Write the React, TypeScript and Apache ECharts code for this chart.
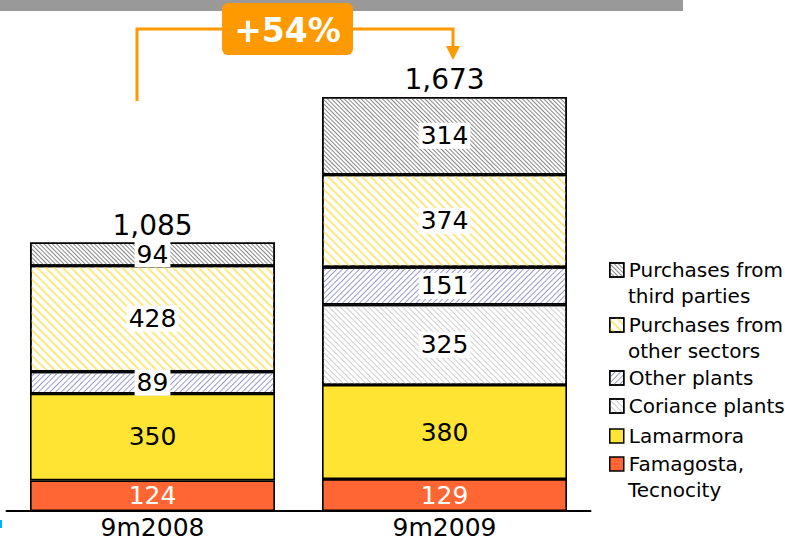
import React, { useEffect, useRef } from "react";
import * as echarts from "echarts";

const categories = ["9m2008", "9m2009"];
const famagosta = [124, 129];
const lamarmora = [350, 380];
const coriance: (number | null)[] = [null, 325];
const otherPlants = [89, 151];
const otherSectors = [428, 374];
const thirdParties = [94, 314];
const totals = [1085, 1673];
const growthLabel = "+54%";

const legendLines: string[][] = [
  ["Purchases from", "third parties"],
  ["Purchases from", "other sectors"],
  ["Other plants"],
  ["Coriance plants"],
  ["Lamarmora"],
  ["Famagosta,", "Tecnocity"],
];
const seriesNames = [
  "Purchases from third parties",
  "Purchases from other sectors",
  "Other plants",
  "Coriance plants",
  "Lamarmora",
  "Famagosta, Tecnocity",
];

const FONT = "DejaVu Sans";

export default function App() {
  const ref = useRef<HTMLDivElement>(null);
  useEffect(() => {
    if (!ref.current) return;
    const chart = echarts.init(ref.current, null, { renderer: "svg" });

    const patLabel = {
      show: true,
      position: "inside",
      fontSize: 25,
      lineHeight: 26,
      color: "#000",
      fontFamily: FONT,
      backgroundColor: "#fff",
      padding: [0, 2],
    };
    const border = { borderColor: "#000", borderWidth: 1.6 };
    const mkDecal = (color: string, dy: number[], rot: number) => ({
      symbol: "rect",
      symbolSize: 1,
      color,
      dashArrayX: [1, 0],
      dashArrayY: dy,
      rotation: rot,
    });

    const legendCenters = [270, 325, 378, 406, 436, 464];
    const legends = seriesNames.map((name, i) => ({
      data: [{ name, icon: "rect" }],
      orient: "vertical",
      left: 609,
      top: legendCenters[i] - 10,
      padding: 0,
      itemWidth: 14,
      itemHeight: 14,
      selectedMode: false,
      formatter: () => legendLines[i][0],
      textStyle: { fontSize: 20, lineHeight: 20, color: "#000", fontFamily: FONT },
      itemStyle: { borderColor: "#000", borderWidth: 1.5 },
    }));

    const secondLines: any[] = [];
    legendLines.forEach((lines, i) => {
      if (lines.length > 1) {
        secondLines.push({
          type: "text",
          x: 628,
          y: legendCenters[i] + 26,
          style: {
            text: lines[1],
            fontSize: 20,
            fontFamily: FONT,
            fill: "#000",
            textVerticalAlign: "middle",
          },
        });
      }
    });

    const orange = "#FF9900";
    chart.setOption({
      animation: false,
      legend: legends,
      grid: { left: 6.5, width: 584, bottom: 31, top: 65.5 },
      xAxis: {
        type: "category",
        data: categories,
        axisLine: { lineStyle: { color: "#000", width: 2 } },
        axisTick: { show: false },
        axisLabel: { fontSize: 25, lineHeight: 26, color: "#000", fontFamily: FONT, margin: 3 },
      },
      yAxis: { type: "value", min: 0, max: 1800, show: false, splitLine: { show: false } },
      series: [
        {
          name: seriesNames[5],
          type: "bar",
          stack: "a",
          barWidth: 245,
          data: famagosta,
          itemStyle: { color: "#FF6633", ...border },
          label: { show: true, position: "inside", fontSize: 25, color: "#fff", fontFamily: FONT },
        },
        {
          name: seriesNames[4],
          type: "bar",
          stack: "a",
          data: lamarmora,
          itemStyle: { color: "#FFE433", ...border },
          label: { show: true, position: "inside", fontSize: 25, color: "#000", fontFamily: FONT },
        },
        {
          name: seriesNames[3],
          type: "bar",
          stack: "a",
          data: coriance,
          itemStyle: { color: "#fff", ...border, decal: mkDecal("#cfcfcf", [1, 2.5], Math.PI / 4) },
          label: patLabel,
        },
        {
          name: seriesNames[2],
          type: "bar",
          stack: "a",
          data: otherPlants,
          itemStyle: { color: "#fff", ...border, decal: mkDecal("#9a9ad0", [1, 2.5], -Math.PI / 4) },
          label: patLabel,
        },
        {
          name: seriesNames[1],
          type: "bar",
          stack: "a",
          data: otherSectors,
          itemStyle: { color: "#fff", ...border, decal: mkDecal("#ffe880", [1.5, 3.5], Math.PI / 4) },
          label: patLabel,
        },
        {
          name: seriesNames[0],
          type: "bar",
          stack: "a",
          data: thirdParties,
          itemStyle: { color: "#fff", ...border, decal: mkDecal("#888888", [1, 2], Math.PI / 4) },
          label: patLabel,
        },
        {
          name: "total",
          type: "bar",
          stack: "a",
          data: totals.map(() => 0),
          itemStyle: { color: "rgba(0,0,0,0)", borderWidth: 0 },
          label: {
            show: true,
            position: "top",
            distance: 3,
            fontSize: 28,
            color: "#000",
            fontFamily: FONT,
            formatter: (p: any) => totals[p.dataIndex].toLocaleString("en-US"),
          },
        },
      ],
      graphic: [
        { type: "rect", shape: { x: 0, y: 0, width: 683, height: 11 }, style: { fill: "#999999" } },
        { type: "rect", shape: { x: 0, y: 520, width: 2, height: 8 }, style: { fill: "#00B0F0" } },
        {
          type: "polyline",
          shape: { points: [[137, 101], [137, 29], [225, 29]] },
          style: { stroke: orange, lineWidth: 3, fill: null },
        },
        {
          type: "polyline",
          shape: { points: [[350, 29], [453, 29], [453, 48]] },
          style: { stroke: orange, lineWidth: 3, fill: null },
        },
        {
          type: "polygon",
          shape: { points: [[446, 46], [460, 46], [453, 60]] },
          style: { fill: orange },
        },
        {
          type: "rect",
          shape: { x: 222, y: 3, width: 131, height: 52, r: 6 },
          style: { fill: orange },
        },
        {
          type: "text",
          x: 287.5,
          y: 30,
          style: {
            text: growthLabel,
            fontSize: 33,
            fontWeight: "bold",
            fontFamily: FONT,
            fill: "#fff",
            textAlign: "center",
            textVerticalAlign: "middle",
          },
        },
        ...secondLines,
      ],
    });
    return () => chart.dispose();
  }, []);
  return (
    <div
      ref={ref}
      style={{ position: "absolute", left: 0, top: 0, width: 785, height: 542 }}
    />
  );
}
